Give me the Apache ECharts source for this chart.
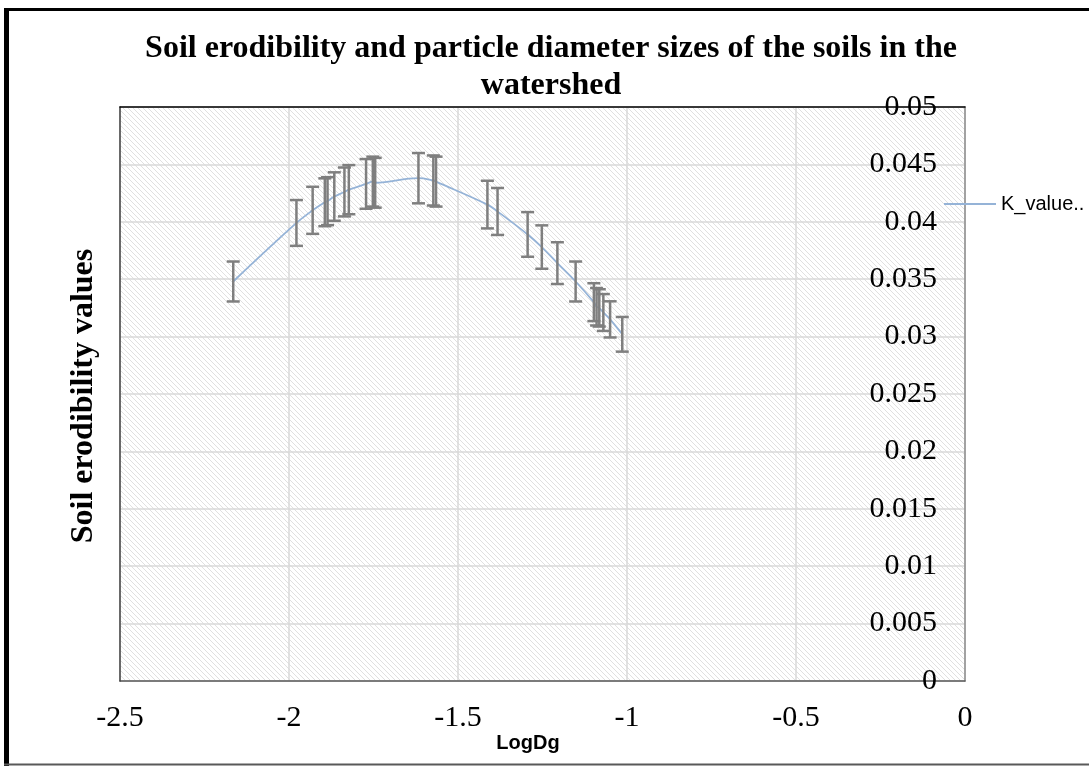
<!DOCTYPE html>
<html>
<head>
<meta charset="utf-8">
<title>Soil erodibility</title>
<script src="https://cdn.jsdelivr.net/npm/echarts@6/dist/echarts.min.js"></script>
<style>
  html, body { margin: 0; padding: 0; background: #fff; }
  #chart { width: 1089px; height: 766px; }
</style>
</head>
<body>
<div id="chart"></div>
<script>
// values
const logDg = [-2.165, -1.978, -1.930, -1.894, -1.886, -1.866, -1.836, -1.823, -1.772, -1.752, -1.745,
  -1.617, -1.573, -1.565, -1.413, -1.383, -1.294, -1.252, -1.206, -1.152, -1.098, -1.090, -1.082,
  -1.070, -1.050, -1.014];
const kValue = [0.0348, 0.0399, 0.0410, 0.0417, 0.0418, 0.0422, 0.0426, 0.0428, 0.0433, 0.0435, 0.0434,
  0.0438, 0.0436, 0.0435, 0.0415, 0.0409, 0.0389, 0.0378, 0.0364, 0.0348, 0.0330, 0.0326, 0.0325,
  0.0321, 0.0315, 0.0302];
const seriesName = "K_value..";
const errPct = 0.05; // percentage error bars
const xMin = -2.5, xMax = 0, xStep = 0.5;
const yMin = 0, yMax = 0.05, yStep = 0.005;

const points = logDg.map((x, i) => [x, kValue[i]]);
const errData = points.map((p) => [p[0], p[1] * (1 - errPct), p[1] * (1 + errPct)]);

// light downward diagonal fill of the plot area
const hatch = () => {
  const c = document.createElement("canvas");
  c.width = 5;
  c.height = 5;
  const ctx = c.getContext("2d");
  ctx.fillStyle = "#ffffff";
  ctx.fillRect(0, 0, 5, 5);
  ctx.fillStyle = "#e0e0e0";
  for (let i = 0; i < 5; i++) ctx.fillRect(i, i, 1, 1);
  return c;
};

const serif = "Liberation Serif";
const chart = echarts.init(document.getElementById("chart"));

chart.setOption({
  backgroundColor: "#fff",
  animation: false,
  title: {
    text: "Soil erodibility and particle diameter sizes of the soils in the\nwatershed",
    left: 551,
    top: 30,
    textAlign: "center",
    padding: 0,
    textStyle: { fontFamily: serif, fontSize: 32, fontWeight: "bold", color: "#000", lineHeight: 37 },
  },
  grid: {
    left: 120,
    right: 124,
    top: 107,
    bottom: 85,
    show: true,
    borderWidth: 0,
    backgroundColor: { image: hatch(), repeat: "repeat" },
  },
  legend: {
    data: [seriesName],
    icon: "rect",
    left: 944,
    top: 194,
    padding: 0,
    itemWidth: 52,
    itemHeight: 2,
    textStyle: { fontFamily: "Liberation Sans", fontSize: 20, color: "#000" },
  },
  xAxis: [
    {
      type: "value",
      min: xMin,
      max: xMax,
      interval: xStep,
      axisLine: { show: true, onZero: false, lineStyle: { color: "#595959", width: 1.5 } },
      axisTick: { show: false },
      axisLabel: { margin: 22, fontFamily: serif, fontSize: 30, lineHeight: 30, color: "#000" },
      splitLine: { show: true, lineStyle: { color: "#d9d9d9", width: 1.5 } },
    },
    {
      type: "value",
      position: "top",
      min: xMin,
      max: xMax,
      z: 5,
      axisLine: { show: true, onZero: false, lineStyle: { color: "#000", width: 1.5 } },
      axisTick: { show: false },
      axisLabel: { show: false },
      splitLine: { show: false },
    },
  ],
  yAxis: [
    {
      type: "value",
      position: "right",
      min: yMin,
      max: yMax,
      interval: yStep,
      axisLine: { show: true, onZero: false, lineStyle: { color: "#8c8c8c", width: 1.5 } },
      axisTick: { show: false },
      axisLabel: { inside: true, margin: 28, fontFamily: serif, fontSize: 30, color: "#000" },
      splitLine: { show: true, lineStyle: { color: "#d9d9d9", width: 1.5 } },
    },
    {
      type: "value",
      position: "left",
      min: yMin,
      max: yMax,
      z: 5,
      axisLine: { show: true, onZero: false, lineStyle: { color: "#404040", width: 1.5 } },
      axisTick: { show: false },
      axisLabel: { show: false },
      splitLine: { show: false },
    },
  ],
  graphic: [
    {
      type: "text",
      x: 84,
      y: 396,
      rotation: Math.PI / 2,
      style: {
        text: "Soil erodibility values",
        font: "bold 32px 'Liberation Serif'",
        fill: "#000",
        align: "center",
        verticalAlign: "middle",
      },
    },
    {
      type: "text",
      x: 528,
      y: 743,
      style: {
        text: "LogDg",
        font: "bold 20px 'Liberation Sans'",
        fill: "#000",
        align: "center",
        verticalAlign: "middle",
      },
    },
    // outer frame
    { type: "line", shape: { x1: 6.5, y1: 8, x2: 6.5, y2: 766 }, style: { stroke: "#000", lineWidth: 5 } },
    { type: "line", shape: { x1: 4, y1: 9.5, x2: 1089, y2: 9.5 }, style: { stroke: "#000", lineWidth: 3 } },
    { type: "line", shape: { x1: 4, y1: 764.5, x2: 1089, y2: 764.5 }, style: { stroke: "#595959", lineWidth: 2 } },
  ],
  series: [
    {
      name: seriesName,
      type: "line",
      data: points,
      smooth: 0.4,
      symbol: "none",
      lineStyle: { color: "#95b3d7", width: 1.8 },
      itemStyle: { color: "#95b3d7" },
      z: 2,
    },
    {
      name: "error",
      type: "custom",
      data: errData,
      encode: { x: 0, y: [1, 2] },
      z: 3,
      renderItem: (params, api) => {
        const x = api.value(0);
        const lo = api.coord([x, api.value(1)]);
        const hi = api.coord([x, api.value(2)]);
        const w = 6.5;
        const style = { stroke: "#7f7f7f", lineWidth: 2.5 };
        return {
          type: "group",
          children: [
            { type: "line", shape: { x1: lo[0], y1: lo[1], x2: hi[0], y2: hi[1] }, style },
            { type: "line", shape: { x1: lo[0] - w, y1: lo[1], x2: lo[0] + w, y2: lo[1] }, style },
            { type: "line", shape: { x1: hi[0] - w, y1: hi[1], x2: hi[0] + w, y2: hi[1] }, style },
          ],
        };
      },
    },
  ],
});
</script>
</body>
</html>
